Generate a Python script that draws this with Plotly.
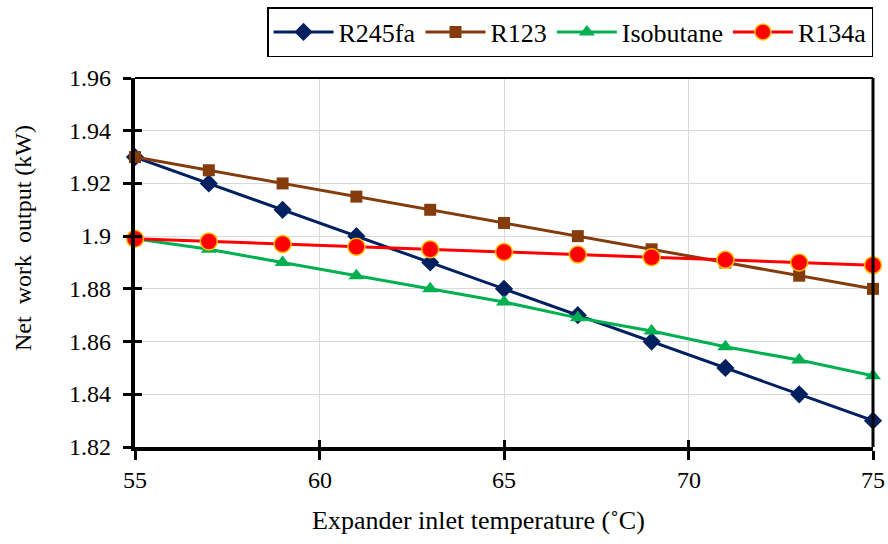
import plotly.graph_objects as go

temps = [55, 57, 59, 61, 63, 65, 67, 69, 71, 73, 75]
r245fa = [1.930, 1.920, 1.910, 1.900, 1.890, 1.880, 1.870, 1.860, 1.850, 1.840, 1.830]
r123 = [1.930, 1.925, 1.920, 1.915, 1.910, 1.905, 1.900, 1.895, 1.890, 1.885, 1.880]
isobutane = [1.899, 1.895, 1.890, 1.885, 1.880, 1.875, 1.869, 1.864, 1.858, 1.853, 1.847]
r134a = [1.899, 1.898, 1.897, 1.896, 1.895, 1.894, 1.893, 1.892, 1.891, 1.890, 1.889]

x_ticks = [55, 60, 65, 70, 75]
x_labels = ["55", "60", "65", "70", "75"]
y_ticks = [1.82, 1.84, 1.86, 1.88, 1.90, 1.92, 1.94, 1.96]
y_labels = ["1.82", "1.84", "1.86", "1.88", "1.9", "1.92", "1.94", "1.96"]
x_range = [55, 75]
y_range = [1.82, 1.96]

FONT = "Liberation Serif"

series = [
    ("R245fa", r245fa, "#002060", dict(symbol="diamond", size=14, color="#002060")),
    ("R123", r123, "#843C0C", dict(symbol="square", size=12, color="#843C0C")),
    ("Isobutane", isobutane, "#00B050", dict(symbol="triangle-up", size=14, color="#00B050")),
    ("R134a", r134a, "#FF0000", dict(symbol="circle", size=17, color="#FF0000",
                                     line=dict(color="#FFC000", width=1.5))),
]

fig = go.Figure()
for name, vals, col, mk in series:
    fig.add_trace(go.Scatter(x=temps, y=vals, name=name, mode="lines+markers",
                             line=dict(color=col, width=3), marker=mk, cliponaxis=False))

# invisible helper trace so the overlay (inside-tick) axes get their subplot
fig.add_trace(go.Scatter(x=temps, y=r123, xaxis="x2", yaxis="y2", mode="lines",
                         line=dict(width=0, color="rgba(0,0,0,0)"),
                         showlegend=False, hoverinfo="skip"))

tick_common = dict(tickwidth=3, tickcolor="black", showticklabels=False, showgrid=False,
                   showline=False, zeroline=False)

# tick labels placed through the axes' own scales
annotations = []
for v, lab in zip(x_ticks, x_labels):
    annotations.append(dict(text=lab, x=v, xref="x", y=0, yref="paper", xanchor="center",
                            yanchor="middle", yshift=-33, showarrow=False,
                            font=dict(family=FONT, size=24, color="black")))
for v, lab in zip(y_ticks, y_labels):
    annotations.append(dict(text=lab, x=0, xref="paper", y=v, yref="y", xanchor="right",
                            yanchor="middle", xshift=-22, showarrow=False,
                            font=dict(family=FONT, size=24, color="black")))
annotations += [
    dict(text="Expander inlet temperature (˚C)", xref="paper", yref="paper",
         x=0.465, y=-0.2005, xanchor="center", yanchor="middle", showarrow=False,
         font=dict(family=FONT, size=26, color="black")),
    dict(text="Net\u00a0 work\u00a0 output (kW)", xref="paper", yref="paper",
         x=-0.152, y=0.566, xanchor="center", yanchor="middle", showarrow=False,
         textangle=-90, font=dict(family=FONT, size=24, color="black")),
]

fig.update_layout(
    width=888, height=544,
    margin=dict(l=135, r=15, t=78, b=97, autoexpand=False),
    paper_bgcolor="white", plot_bgcolor="white",
    font=dict(family=FONT, size=24, color="black"),
    showlegend=True,
    legend=dict(orientation="h", x=1.0, xanchor="right", y=1.1924, yanchor="top",
                bordercolor="black", borderwidth=1.5, bgcolor="white", itemwidth=60,
                font=dict(family=FONT, size=26)),
    xaxis=dict(range=x_range, tickvals=x_ticks, ticks="outside", ticklen=9, tickwidth=3,
               tickcolor="black", showticklabels=False, showline=True, linecolor="black",
               linewidth=4, showgrid=True, gridcolor="#D9D9D9", gridwidth=1, zeroline=False),
    yaxis=dict(range=y_range, tickvals=y_ticks, ticks="outside", ticklen=8, tickwidth=3,
               tickcolor="black", showticklabels=False, showline=True, linecolor="black",
               linewidth=4, showgrid=True, gridcolor="#D9D9D9", gridwidth=1, zeroline=False),
    xaxis2=dict(range=x_range, tickvals=x_ticks, ticks="inside", ticklen=7, overlaying="x",
                anchor="y2", side="bottom", **tick_common),
    yaxis2=dict(range=y_range, tickvals=y_ticks, ticks="inside", ticklen=7, overlaying="y",
                anchor="x2", side="left", **tick_common),
    shapes=[
        dict(type="line", xref="paper", yref="paper", x0=0, x1=1, y0=1, y1=1,
             line=dict(color="black", width=2)),
        dict(type="line", xref="paper", yref="paper", x0=1, x1=1, y0=0, y1=1,
             line=dict(color="black", width=3)),
    ],
    annotations=annotations,
)

fig.write_html("out.html")
